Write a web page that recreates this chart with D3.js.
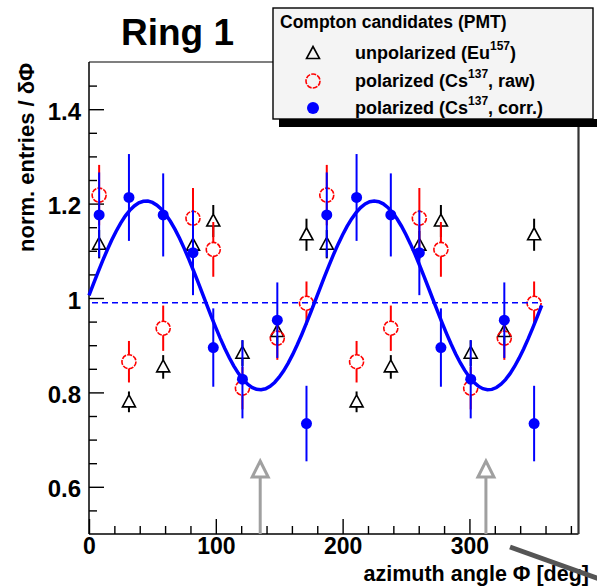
<!DOCTYPE html>
<html><head><meta charset="utf-8">
<script src="https://cdn.jsdelivr.net/npm/d3@7"></script>
<style>
body{margin:0;background:#fff;}
svg{display:block;font-family:"Liberation Sans",Arial,Helvetica,sans-serif;font-weight:bold;}
</style></head><body>
<svg id="c" width="597" height="587"></svg>
<script>
// azimuthal bin centres, deg
const phiBins = [8, 31.5, 58.5, 82, 98, 121, 148.5, 171.5, 187.5, 211, 238, 260.5, 277.5, 301, 327.5, 351];
// unpolarized source (Eu-157)
const unpolEu    = [1.114, 0.780, 0.854, 1.112, 1.163, 0.883, 0.929, 1.134, 1.114, 0.780, 0.854, 1.112, 1.163, 0.883, 0.929, 1.134];
const unpolEuErr = [0.030, 0.022, 0.025, 0.030, 0.034, 0.027, 0.030, 0.034, 0.030, 0.022, 0.025, 0.030, 0.034, 0.027, 0.030, 0.034];
// polarized source (Cs-137), raw
const polRaw    = [1.218, 0.865, 0.936, 1.169, 1.103, 0.809, 0.915, 0.989, 1.218, 0.865, 0.936, 1.169, 1.103, 0.809, 0.915, 0.989];
const polRawErr = [0.064, 0.044, 0.048, 0.064, 0.058, 0.045, 0.046, 0.046, 0.064, 0.044, 0.048, 0.064, 0.058, 0.045, 0.046, 0.046];
// polarized source (Cs-137), corrected
const polCorr    = [1.176, 1.213, 1.176, 1.096, 0.895, 0.828, 0.953, 0.734, 1.176, 1.213, 1.176, 1.096, 0.895, 0.828, 0.953, 0.734];
const polCorrErr = [0.090, 0.092, 0.088, 0.090, 0.083, 0.083, 0.080, 0.080, 0.090, 0.092, 0.088, 0.090, 0.083, 0.083, 0.080, 0.080];
// fit to corrected data: p0 + p1*cos(2*(phi - p2))
const fitParams = [1.0055, 0.2, 45];
const fitRange = [0, 357];
const flatLevel = 0.99;
const arrowPhi = [135, 313];
const xMajor = [0, 100, 200, 300];
const xTickLabels = ["0", "100", "200", "300"];
const yMajor = [0.6, 0.8, 1, 1.2, 1.4];
const yTickLabels = ["0.6", "0.8", "1", "1.2", "1.4"];

const svg = d3.select("#c");
const x = d3.scaleLinear().domain([0, 386]).range([89, 578.5]);
const y = d3.scaleLinear().domain([0.5, 1.5]).range([534, 62]);

const xMinor = d3.range(20, 386, 20).filter(v => !xMajor.includes(v));
const yMinor = d3.range(0.55, 1.5, 0.05).map(v => +v.toFixed(2)).filter(v => !yMajor.includes(v));

// axis ticks, drawn inward
function styleAxis(g, size) {
  g.select(".domain").remove();
  g.selectAll("line").attr("stroke", "#000").attr("stroke-width", 1.4);
  g.selectAll("text").attr("fill", "#000").attr("font-size", size || 24).attr("font-family", null);
}
svg.append("g").attr("transform", "translate(89,0)")
  .call(d3.axisLeft(y).tickValues(yMinor).tickSize(-8).tickFormat(""))
  .call(styleAxis);
svg.append("g").attr("transform", "translate(89,0)")
  .call(d3.axisLeft(y).tickValues(yMajor).tickSize(-15).tickPadding(8)
        .tickFormat((d, i) => yTickLabels[i]))
  .call(styleAxis)
  .call(g => g.selectAll("text").attr("dy", "0.42em"));
svg.append("g").attr("transform", "translate(0,534)")
  .call(d3.axisBottom(x).tickValues(xMinor).tickSize(-8).tickFormat(""))
  .call(styleAxis);
svg.append("g").attr("transform", "translate(0,534)")
  .call(d3.axisBottom(x).tickValues(xMajor).tickSize(-15).tickPadding(4)
        .tickFormat((d, i) => xTickLabels[i]))
  .call(g => styleAxis(g, 23))
  .call(g => g.selectAll("text").attr("dy", "0.71em"));

// frame
svg.append("line").attr("x1", 89).attr("x2", 89).attr("y1", 62).attr("y2", 534).attr("stroke", "#000").attr("stroke-width", 1.5);
svg.append("line").attr("x1", 89).attr("x2", 578.5).attr("y1", 534).attr("y2", 534).attr("stroke", "#000").attr("stroke-width", 1.5);
svg.append("line").attr("x1", 89).attr("x2", 578.5).attr("y1", 62).attr("y2", 62).attr("stroke", "#000").attr("stroke-width", 1.2);
svg.append("line").attr("x1", 578.5).attr("x2", 578.5).attr("y1", 62).attr("y2", 534).attr("stroke", "#333").attr("stroke-width", 2.2);

// reference arrows
arrowPhi.forEach(p => {
  const ax = x(p);
  const g = svg.append("g").attr("stroke", "#a0a0a0").attr("stroke-width", 3).attr("fill", "#fff");
  g.append("line").attr("x1", ax).attr("x2", ax).attr("y1", 534).attr("y2", 477);
  g.append("path").attr("d", `M${ax},461 L${ax + 8},477 L${ax - 8},477 Z`).attr("stroke-linejoin", "miter");
});

const plot = svg.append("g");

// triangle markers: unpolarized
const triHalf = 6.5, triUp = 7, triDown = 5;
phiBins.forEach((p, i) => {
  const cx = x(p), cy = y(unpolEu[i]);
  const yt = y(unpolEu[i] + unpolEuErr[i]), yb = y(unpolEu[i] - unpolEuErr[i]);
  if (yt < cy - triUp) plot.append("line").attr("x1", cx).attr("x2", cx).attr("y1", yt).attr("y2", cy - triUp).attr("stroke", "#000").attr("stroke-width", 2);
  if (yb > cy + triDown) plot.append("line").attr("x1", cx).attr("x2", cx).attr("y1", cy + triDown).attr("y2", yb).attr("stroke", "#000").attr("stroke-width", 2);
  plot.append("path").attr("d", `M${cx},${cy - triUp} L${cx + triHalf},${cy + triDown} L${cx - triHalf},${cy + triDown} Z`)
    .attr("fill", "none").attr("stroke", "#000").attr("stroke-width", 1.6);
});

// open circles: polarized raw
const rRaw = 7;
phiBins.forEach((p, i) => {
  const cx = x(p), cy = y(polRaw[i]);
  const yt = y(polRaw[i] + polRawErr[i]), yb = y(polRaw[i] - polRawErr[i]);
  if (yt < cy - rRaw) plot.append("line").attr("x1", cx).attr("x2", cx).attr("y1", yt).attr("y2", cy - rRaw).attr("stroke", "#ff0000").attr("stroke-width", 2);
  if (yb > cy + rRaw) plot.append("line").attr("x1", cx).attr("x2", cx).attr("y1", cy + rRaw).attr("y2", yb).attr("stroke", "#ff0000").attr("stroke-width", 2);
  plot.append("circle").attr("cx", cx).attr("cy", cy).attr("r", rRaw)
    .attr("fill", "none").attr("stroke", "#ff0000").attr("stroke-width", 1.6).attr("stroke-dasharray", "5,1.2");
});

// filled circles: polarized corrected
phiBins.forEach((p, i) => {
  const cx = x(p);
  plot.append("line").attr("x1", cx).attr("x2", cx)
    .attr("y1", y(polCorr[i] + polCorrErr[i])).attr("y2", y(polCorr[i] - polCorrErr[i]))
    .attr("stroke", "#0000ff").attr("stroke-width", 2);
  plot.append("circle").attr("cx", cx).attr("cy", y(polCorr[i])).attr("r", 5.5).attr("fill", "#0000ff");
});

// fit curve and flat reference
const fitPhi = d3.range(fitRange[0], fitRange[1] + 0.01, 3.57);
const fitFn = p => fitParams[0] + fitParams[1] * Math.cos(2 * (p - fitParams[2]) * Math.PI / 180);
plot.append("path").datum(fitPhi)
  .attr("d", d3.line().x(p => x(p)).y(p => y(fitFn(p))))
  .attr("fill", "none").attr("stroke", "#0000ff").attr("stroke-width", 3.5);
plot.append("line").attr("x1", x(fitRange[0]) + 3).attr("x2", x(fitRange[1]))
  .attr("y1", y(flatLevel)).attr("y2", y(flatLevel))
  .attr("stroke", "#0000ff").attr("stroke-width", 1.6).attr("stroke-dasharray", "6,4");

// axis titles
svg.append("text").attr("x", 589).attr("y", 580.5).attr("text-anchor", "end").attr("font-size", 21.5)
  .text("azimuth angle \u03A6 [deg]");
svg.append("text").attr("transform", "translate(34,252) rotate(-90)").attr("text-anchor", "start").attr("font-size", 22)
  .text("norm. entries / \u03B4\u03A6");

// title
svg.append("text").attr("x", 121).attr("y", 45).attr("font-size", 37).text("Ring 1");

// legend
svg.append("rect").attr("x", 279).attr("y", 119).attr("width", 330).attr("height", 8).attr("fill", "#000");
svg.append("rect").attr("x", 273).attr("y", 8).attr("width", 320).attr("height", 111)
  .attr("fill", "#f4f4f4").attr("stroke", "#000").attr("stroke-width", 1.4);
svg.append("text").attr("x", 280).attr("y", 28).attr("font-size", 17.5).text("Compton candidates (PMT)");

const legendRows = [
  {y: 58.5, my: 53.5, main: "unpolarized (Eu", sup: "157", tail: ")"},
  {y: 86.5, my: 81, main: "polarized (Cs", sup: "137", tail: ", raw)"},
  {y: 114.3, my: 108, main: "polarized (Cs", sup: "137", tail: ", corr.)"}
];
legendRows.forEach((r, i) => {
  const t = svg.append("text").attr("x", 355).attr("y", r.y).attr("font-size", 18);
  t.append("tspan").text(r.main);
  t.append("tspan").attr("font-size", 12).attr("dy", -9).text(r.sup);
  t.append("tspan").attr("dy", 9).text(r.tail);
  const mx = 313;
  if (i === 0) {
    svg.append("path").attr("d", `M${mx},${r.my - triUp} L${mx + triHalf},${r.my + triDown} L${mx - triHalf},${r.my + triDown} Z`)
      .attr("fill", "none").attr("stroke", "#000").attr("stroke-width", 1.6);
  } else if (i === 1) {
    svg.append("circle").attr("cx", mx).attr("cy", r.my).attr("r", rRaw).attr("fill", "none")
      .attr("stroke", "#ff0000").attr("stroke-width", 1.6).attr("stroke-dasharray", "5,1.2");
  } else {
    svg.append("circle").attr("cx", mx).attr("cy", r.my).attr("r", 6).attr("fill", "#0000ff");
  }
});

// edge of neighbouring panel
svg.append("line").attr("x1", 510).attr("y1", 547).attr("x2", 602).attr("y2", 580)
  .attr("stroke", "#555").attr("stroke-width", 5);
</script>
</body></html>
